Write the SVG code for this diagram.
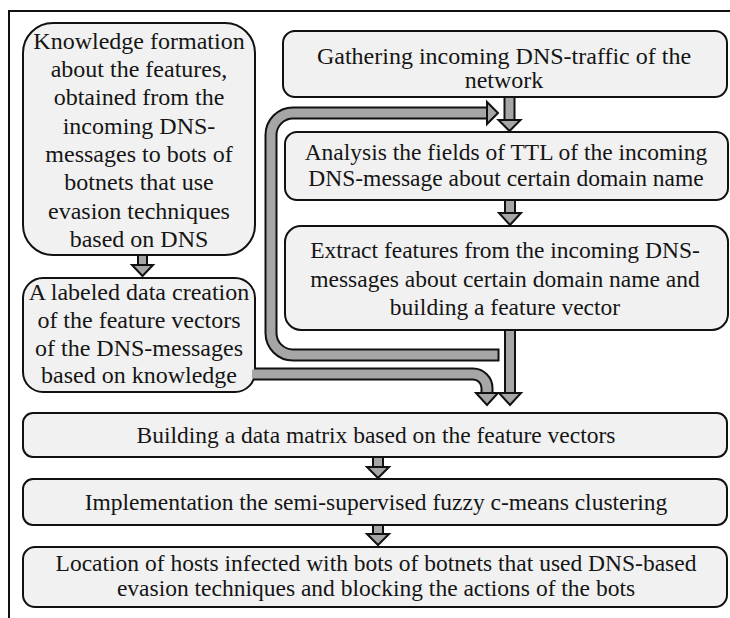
<svg xmlns="http://www.w3.org/2000/svg" width="730" height="618" viewBox="0 0 730 618">
  <defs>
    <style>
      .box { fill: #f1f1f1; stroke: #111; stroke-width: 2; }
      .frame { fill: none; stroke: #111; stroke-width: 2; }
      .t { font-size: 23.5px; fill: #151515; text-anchor: middle; }
      .tl { font-size: 24px; }
      .pipe-edge { fill: none; stroke: #111; stroke-width: 13; stroke-linejoin: round; }
      .pipe-core { fill: none; stroke: #a6a6a6; stroke-width: 9; stroke-linejoin: round; }
      .head { fill: #a6a6a6; stroke: #111; stroke-width: 2; stroke-linejoin: miter; }
      .stem { fill: #a6a6a6; stroke: #111; stroke-width: 2; }
    </style>
  </defs>

  <rect x="0" y="0" width="730" height="618" fill="#ffffff"/>

  <!-- outer frame: left and top edges only -->
  <path class="frame" d="M9,618 V11 H730"/>

  <!-- process steps -->
  <g font-family="Liberation Serif, DejaVu Serif, serif">
  <g id="knowledge">
    <rect class="box" x="23" y="23" width="232" height="232" rx="30" ry="30"/>
    <text class="t tl" x="139" y="49">Knowledge formation</text>
    <text class="t tl" x="139" y="77">about the features,</text>
    <text class="t tl" x="139" y="105">obtained from the</text>
    <text class="t tl" x="139" y="134">incoming DNS-</text>
    <text class="t tl" x="139" y="162">messages to bots of</text>
    <text class="t tl" x="139" y="190">botnets that use</text>
    <text class="t tl" x="139" y="219">evasion techniques</text>
    <text class="t tl" x="139" y="247">based on DNS</text>
  </g>

  <g id="labeled-data">
    <rect class="box" x="23" y="278" width="232" height="114" rx="20" ry="20"/>
    <text class="t tl" x="139" y="300">A labeled data creation</text>
    <text class="t tl" x="139" y="328">of the feature vectors</text>
    <text class="t tl" x="139" y="356">of the DNS-messages</text>
    <text class="t tl" x="139" y="383">based on knowledge</text>
  </g>

  <g id="gathering">
    <rect class="box" x="283" y="31" width="444" height="66" rx="12" ry="12"/>
    <text class="t tl" x="504" y="64">Gathering incoming DNS-traffic of the</text>
    <text class="t tl" x="504" y="88">network</text>
  </g>

  <g id="analysis">
    <rect class="box" x="285" y="132" width="443" height="68" rx="12" ry="12"/>
    <text class="t" x="506" y="160">Analysis the fields of TTL of the incoming</text>
    <text class="t" x="506" y="186">DNS-message about certain domain name</text>
  </g>

  <g id="extract">
    <rect class="box" x="285" y="226" width="443" height="104" rx="16" ry="16"/>
    <text class="t" x="505" y="258">Extract features from the incoming DNS-</text>
    <text class="t" x="505" y="287">messages about certain domain name and</text>
    <text class="t" x="505" y="315">building a feature vector</text>
  </g>

  <g id="data-matrix">
    <rect class="box" x="23" y="413" width="704" height="44" rx="10" ry="10"/>
    <text class="t" x="376" y="443">Building a data matrix based on the feature vectors</text>
  </g>

  <g id="clustering">
    <rect class="box" x="23" y="479" width="704" height="46" rx="10" ry="10"/>
    <text class="t" x="376" y="510">Implementation the semi-supervised fuzzy c-means clustering</text>
  </g>

  <g id="location">
    <rect class="box" x="23" y="547" width="704" height="60" rx="12" ry="12"/>
    <text class="t" x="376" y="571" font-size="23">Location of hosts infected with bots of botnets that used DNS-based</text>
    <text class="t" x="376" y="596" font-size="23">evasion techniques and blocking the actions of the bots</text>
  </g>
  </g>

  <!-- connectors -->
  <g id="connectors">
    <!-- feedback pipe: from below the extract step back up to the analysis input -->
    <path class="pipe-edge" d="M499.5,355 H293 A22,22 0 0 1 271,333 V135 A22,22 0 0 1 293,113 H488"/>
    <path class="pipe-core" d="M497.5,355 H293 A22,22 0 0 1 271,333 V135 A22,22 0 0 1 293,113 H489"/>
    <polygon class="head" points="487,102 498,113 487,124"/>

    <!-- labeled data into the data matrix -->
    <path class="pipe-edge" d="M254,374 H473 A14,14 0 0 1 487,388 V394"/>
    <path class="pipe-core" d="M252,374 H473 A14,14 0 0 1 487,388 V395"/>
    <polygon class="head" points="476,393 498,393 487,405"/>

    <!-- extract step into the data matrix -->
    <rect class="stem" x="505" y="330" width="10" height="64"/>
    <polygon class="head" points="499,393 521,393 510,405"/>

    <!-- knowledge to labeled data -->
    <rect class="stem" x="138" y="255" width="9" height="11"/>
    <polygon class="head" points="132,265 153,265 142.5,276"/>

    <!-- gathering to analysis -->
    <rect class="stem" x="504.5" y="97" width="10" height="24"/>
    <polygon class="head" points="498.5,120 520.5,120 509.5,131"/>

    <!-- analysis to extract -->
    <rect class="stem" x="505" y="200" width="10" height="14"/>
    <polygon class="head" points="499,213 521,213 510,225"/>

    <!-- data matrix to clustering -->
    <rect class="stem" x="373" y="457" width="10" height="11"/>
    <polygon class="head" points="367,467 389,467 378,478"/>

    <!-- clustering to location -->
    <rect class="stem" x="373" y="525" width="10" height="10"/>
    <polygon class="head" points="367,534 389,534 378,545"/>
  </g>
</svg>
